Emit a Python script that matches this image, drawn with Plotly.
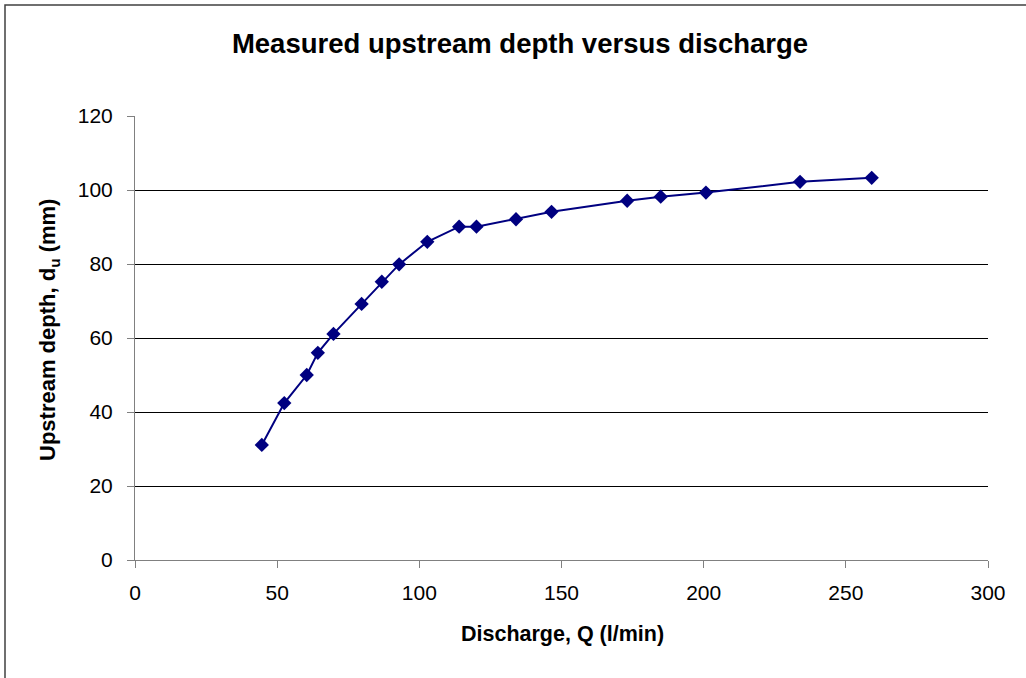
import plotly.graph_objects as go

discharge = [44.6, 52.5, 60.4, 64.3, 69.8, 79.7, 86.8, 92.9, 102.8, 114.0, 120.1,
             134.0, 146.5, 173.1, 184.9, 200.8, 233.9, 259.1]
depth = [31.1, 42.4, 50.0, 56.0, 61.1, 69.2, 75.2, 79.9, 86.0, 90.1, 90.1,
         92.1, 94.1, 97.1, 98.2, 99.3, 102.2, 103.3]
x_ticks = [0, 50, 100, 150, 200, 250, 300]
y_ticks = [0, 20, 40, 60, 80, 100, 120]

FONT = "Liberation Sans, Arial, sans-serif"
PLOT_L, PLOT_R, PLOT_T, PLOT_B = 135, 988, 116, 560
PW, PH = PLOT_R - PLOT_L, PLOT_B - PLOT_T

fig = go.Figure()
fig.add_trace(go.Scatter(
    x=discharge, y=depth, mode="lines+markers",
    line=dict(color="#000080", width=2),
    marker=dict(symbol="diamond", size=11, color="#000080"),
    showlegend=False,
))

fig.update_layout(
    width=1026, height=678,
    margin=dict(l=PLOT_L, r=1026 - PLOT_R, t=PLOT_T, b=678 - PLOT_B),
    paper_bgcolor="white", plot_bgcolor="white",
    font=dict(family=FONT, color="black", size=21),
    title=dict(text="<b>Measured upstream depth versus discharge</b>",
               x=520 / 1026, xanchor="center", y=1 - 43 / 678, yanchor="middle",
               font=dict(family=FONT, size=27.5, color="black")),
    xaxis=dict(range=[0, 300], tickvals=x_ticks, ticks="outside", ticklen=7,
               tickcolor="#808080", showline=True, linecolor="#808080", linewidth=1,
               showgrid=False, zeroline=False, ticklabelstandoff=7,
               tickfont=dict(family=FONT, size=21)),
    yaxis=dict(range=[0, 120], tickvals=y_ticks, ticks="outside", ticklen=7,
               tickcolor="#808080", showline=True, linecolor="#808080", linewidth=1,
               showgrid=True, gridcolor="#000000", gridwidth=1, zeroline=False,
               ticklabelstandoff=10, tickfont=dict(family=FONT, size=21)),
    annotations=[
        dict(text="<b>Discharge, Q (l/min)</b>", xref="paper", yref="paper",
             x=(562 - PLOT_L) / PW, y=(PLOT_B - 634) / PH, xanchor="center",
             yanchor="middle", showarrow=False, font=dict(family=FONT, size=21.5)),
        dict(text="<b>Upstream depth, d<sub>u</sub> (mm)</b>", xref="paper", yref="paper",
             x=(49 - PLOT_L) / PW, y=(PLOT_B - 330) / PH, xanchor="center",
             yanchor="middle", textangle=-90, showarrow=False,
             font=dict(family=FONT, size=22)),
    ],
    shapes=[dict(type="rect", xref="paper", yref="paper",
                 x0=(5 - PLOT_L) / PW, x1=1.2, y0=-0.4, y1=(PLOT_B - 5) / PH,
                 line=dict(color="#404040", width=1.5), fillcolor="rgba(0,0,0,0)",
                 layer="below")],
)

fig.write_html("out.html")
